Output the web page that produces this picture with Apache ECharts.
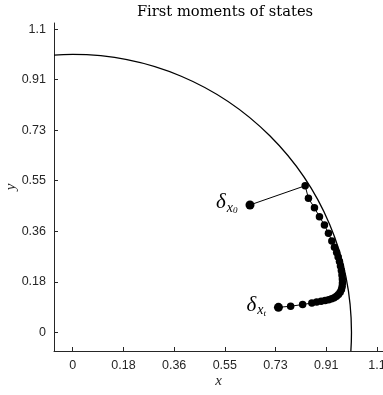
<!DOCTYPE html>
<html>
<head>
<meta charset="utf-8">
<script src="https://cdn.jsdelivr.net/npm/echarts@6/dist/echarts.min.js"></script>
<style>
  html, body { margin: 0; padding: 0; background: #fff; }
  #chart { width: 383px; height: 395px; }
</style>
</head>
<body>
<div id="chart"></div>
<script>
// tick positions (1.1 / 6 steps) and the labels printed on them
const ticks = [0, 0.18333, 0.36667, 0.55, 0.73333, 0.91667, 1.1]
const tickLabels = ['0', '0.18', '0.36', '0.55', '0.73', '0.91', '1.1']

// circle: center x, center y, radius
const circle = [[0, 0, 1.008]]

// first moments, from delta_x0 to delta_xt
const trajX = [0.641, 0.8405, 0.8524, 0.8741, 0.8922, 0.9103, 0.9247, 0.9370, 0.9465,
  0.9544, 0.9598, 0.9646, 0.9682, 0.9714, 0.9736, 0.9750, 0.9754, 0.9743, 0.9718,
  0.9671, 0.9609, 0.9537, 0.9454, 0.9363, 0.9255, 0.9128, 0.8983, 0.8821, 0.8647,
  0.8314, 0.7880, 0.7439]
const trajY = [0.462, 0.5317, 0.4860, 0.4519, 0.4193, 0.3892, 0.3591, 0.3312, 0.3083,
  0.2894, 0.2731, 0.2568, 0.2405, 0.2242, 0.2078, 0.1933, 0.1788, 0.1661, 0.1552,
  0.1451, 0.1371, 0.1306, 0.1255, 0.1215, 0.1182, 0.1153, 0.1124, 0.1099, 0.1063,
  0.1008, 0.0947, 0.0907]

const chart = echarts.init(document.getElementById('chart'))

const tickFmt = (v) => {
  const i = ticks.findIndex((t) => Math.abs(t - v) < 1e-4)
  return i >= 0 ? tickLabels[i] : ''
}

const axisCommon = {
  type: 'value',
  min: -0.0677,
  max: 1.122,
  nameLocation: 'middle',
  nameMoveOverlap: false,
  nameTextStyle: { fontFamily: 'Liberation Serif', fontStyle: 'italic', fontSize: 15, color: '#262626' },
  axisLine: { show: true, onZero: false, lineStyle: { color: '#262626', width: 1 } },
  axisTick: { show: true, inside: true, length: 4, customValues: ticks, lineStyle: { color: '#262626' } },
  axisLabel: { customValues: ticks, formatter: tickFmt, fontFamily: 'Liberation Sans', fontSize: 12.5, color: '#262626' },
  splitLine: { show: false }
}

const labelRich = {
  d: { fontFamily: 'Liberation Serif', fontStyle: 'italic', fontSize: 21, color: '#000' },
  s: { fontFamily: 'Liberation Serif', fontStyle: 'italic', fontSize: 14, color: '#000', padding: [10, 0, 0, 1] },
  t: { fontFamily: 'Liberation Serif', fontStyle: 'italic', fontSize: 9, color: '#000', padding: [16, 0, 0, 0] }
}

const trajData = trajX.map((x, i) => {
  const item = { value: [x, trajY[i]] }
  if (i === 0 || i === trajX.length - 1) {
    const sub = i === 0 ? '0' : 't'
    item.symbolSize = 9
    item.label = {
      show: true,
      position: 'left',
      distance: 8,
      offset: [0, -2],
      formatter: '{d|δ}{s|x}{t|' + sub + '}',
      rich: labelRich
    }
  }
  return item
})

const option = {
  animation: false,
  title: {
    text: 'First moments of states',
    left: 220,
    textAlign: 'center',
    top: 0,
    textStyle: { fontFamily: 'DejaVu Serif', fontWeight: 'normal', fontSize: 14.7, color: '#000' }
  },
  grid: { left: 54, right: 0, top: 23, bottom: 44, containLabel: false, outerBoundsMode: 'none' },
  xAxis: Object.assign({}, axisCommon, { name: 'x', nameGap: 23 }),
  yAxis: Object.assign({}, axisCommon, { name: 'y', nameGap: 35 }),
  series: [
    {
      type: 'custom',
      data: circle,
      silent: true,
      renderItem: function (params, api) {
        const c = api.coord([api.value(0), api.value(1)])
        const s = api.size([api.value(2), api.value(2)])
        const cs = params.coordSys
        return {
          type: 'ellipse',
          shape: { cx: c[0], cy: c[1], rx: s[0], ry: s[1] },
          style: { fill: 'none', stroke: '#000', lineWidth: 1.3 },
          clipPath: { type: 'rect', shape: { x: cs.x, y: cs.y, width: cs.width, height: cs.height } }
        }
      }
    },
    {
      type: 'line',
      data: trajData,
      symbol: 'circle',
      symbolSize: 7.5,
      showAllSymbol: true,
      itemStyle: { color: '#000' },
      lineStyle: { color: '#000', width: 1 },
      z: 3
    }
  ]
}

chart.setOption(option)
</script>
</body>
</html>
